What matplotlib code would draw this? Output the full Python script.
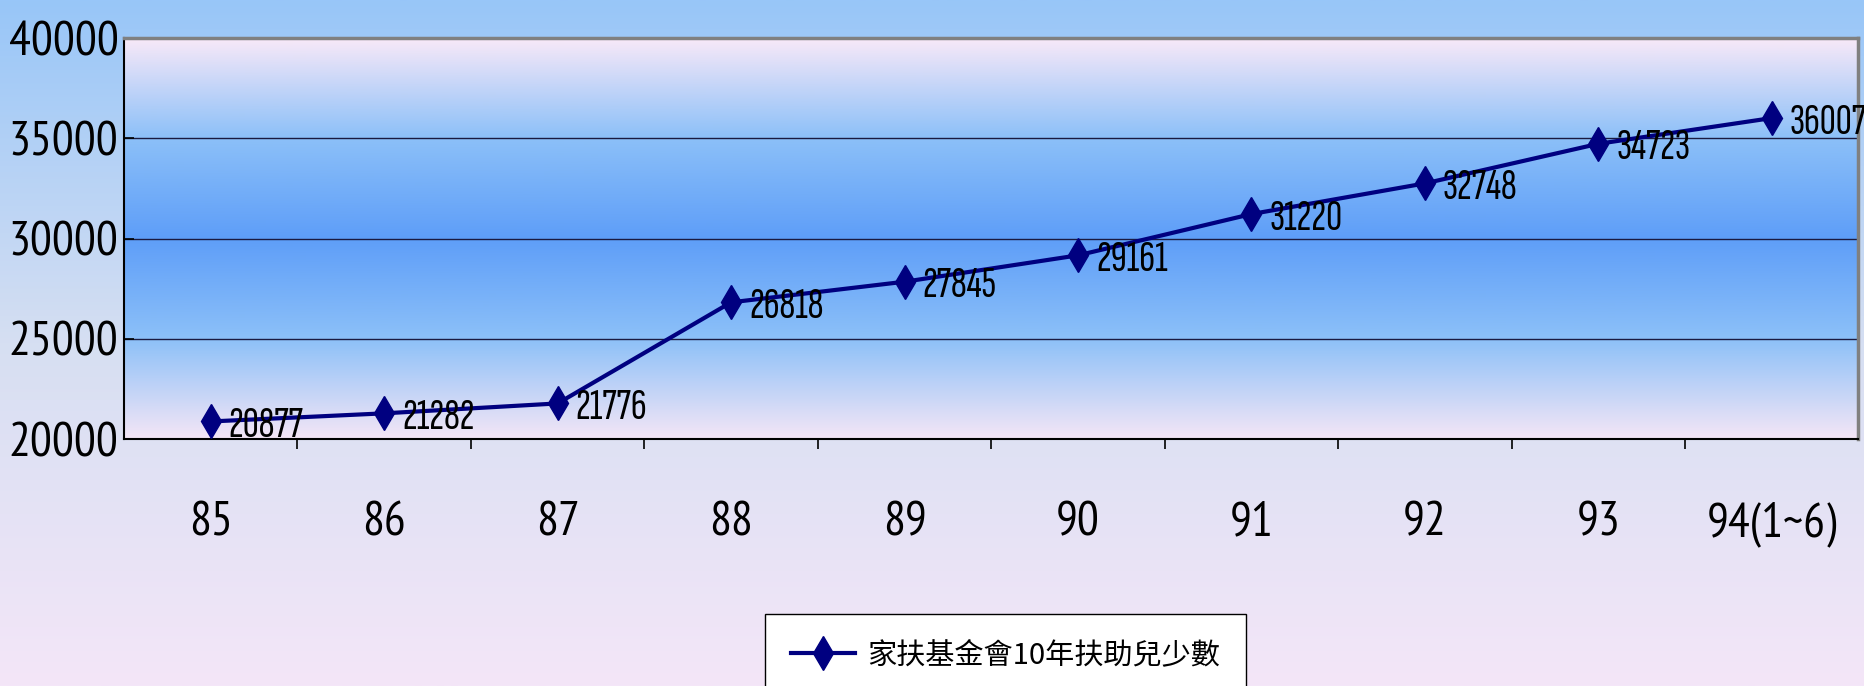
import matplotlib
matplotlib.use("Agg")
import matplotlib.pyplot as plt
import numpy as np
from matplotlib.colors import LinearSegmentedColormap

years = ["85", "86", "87", "88", "89", "90", "91", "92", "93", "94(1~6)"]
children = [20877, 21282, 21776, 26818, 27845, 29161, 31220, 32748, 34723, 36007]
series_name = "家扶基金會10年扶助兒少數"
y_ticks = [20000, 25000, 30000, 35000, 40000]

narrow = ["PT Sans Narrow", "Archivo Narrow", "Liberation Sans", "DejaVu Sans"]
label_font = ["Sofia Sans Extra Condensed", "PT Sans Narrow", "DejaVu Sans"]
cjk = ["Noto Sans CJK TC", "DejaVu Sans"]

fig = plt.figure(figsize=(18.65, 6.86), dpi=100)

# figure background gradient (light blue top -> lavender bottom)
bg = fig.add_axes([0, 0, 1, 1], zorder=-10)
bg_cmap = LinearSegmentedColormap.from_list("bg", ["#98c6f8", "#d6dff2", "#f4e6f8"])
bg.imshow(np.linspace(0, 1, 256).reshape(-1, 1), cmap=bg_cmap, aspect="auto",
          extent=[0, 1, 0, 1], origin="upper")
bg.axis("off")

ax = fig.add_axes([0.0665, 0.36, 0.930, 0.5846])
x = np.arange(len(years))

# plot area gradient (pink -> blue -> pink)
pa_cmap = LinearSegmentedColormap.from_list("pa", ["#f9e9f8", "#8cc0f8", "#5e9ef8", "#8cc0f8", "#f4e6f6"])
ax.imshow(np.linspace(0, 1, 256).reshape(-1, 1), cmap=pa_cmap, aspect="auto",
          extent=[-0.5, len(years) - 0.5, y_ticks[0], y_ticks[-1]], origin="upper", zorder=0)

ax.plot(x, children, color="#000080", lw=3, marker="d", ms=17, zorder=3,
        label=series_name)
for xi, v in zip(x, children):
    ax.annotate(str(v), (xi, v), xytext=(13, -3), textcoords="offset points",
                ha="left", va="center", fontsize=32, family=label_font,
                color="black", zorder=4, annotation_clip=False)

ax.set_xlim(-0.5, len(years) - 0.5)
ax.set_ylim(y_ticks[0], y_ticks[-1])
ax.set_yticks(y_ticks)
ax.yaxis.grid(True, color="#1a1a40", lw=1)
ax.tick_params(axis="y", direction="in", length=7, width=1.2, pad=4, labelsize=35)
for t in ax.get_yticklabels():
    t.set_family(narrow)

ax.set_xticks(np.arange(len(years) - 1) + 0.5)
ax.set_xticklabels([])
ax.set_xticks(x, minor=True)
ax.set_xticklabels(years, minor=True)
ax.tick_params(axis="x", which="major", direction="out", length=7, width=1.2)
ax.tick_params(axis="x", which="minor", length=0, pad=45, labelsize=35)
for t in ax.get_xticklabels(minor=True):
    t.set_family(narrow)

for s in ["top", "right"]:
    ax.spines[s].set_color("#808080")
    ax.spines[s].set_linewidth(2.5)
for s in ["left", "bottom"]:
    ax.spines[s].set_color("black")
    ax.spines[s].set_linewidth(1.5)

leg = fig.legend(loc="upper left", bbox_to_anchor=(0.41, 0.105), borderaxespad=0,
                 prop={"family": cjk, "size": 21}, frameon=True, fancybox=False,
                 handlelength=2.2, handletextpad=0.4, borderpad=0.9)
leg.get_frame().set_edgecolor("black")
leg.get_frame().set_facecolor("white")
leg.get_frame().set_alpha(1)

fig.savefig("out.png", dpi=100)
